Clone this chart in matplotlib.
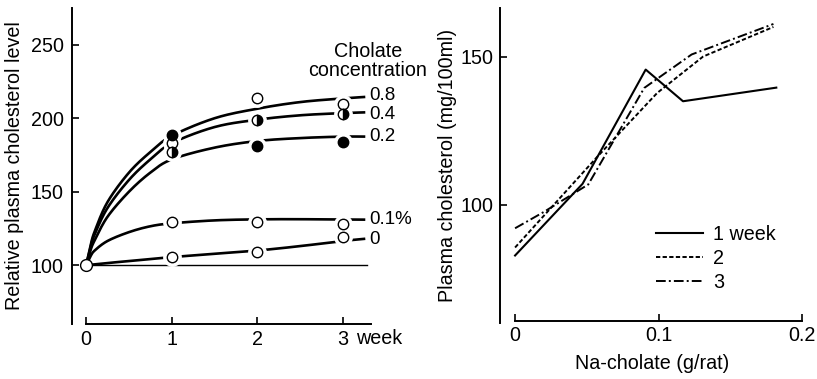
import matplotlib
matplotlib.use("Agg")
import matplotlib.pyplot as plt
import numpy as np

plt.rcParams['font.family'] = ['Liberation Sans', 'DejaVu Sans']
FS = 14.2

# ---------------- Left panel data ----------------
weeks = [0, 1, 2, 3]
conc_labels = ["0.8", "0.4", "0.2", "0.1%", "0"]
pts_08 = [100, 183, 214, 210]
pts_04 = [100, 177, 199, 203]
pts_02 = [100, 188.5, 181, 183.5]
pts_01 = [100, 129.5, 129.5, 128]
pts_00 = [100, 105.7, 109, 119.3]

curve_x = [0, 0.05, 0.1, 0.25, 0.5, 0.75, 1, 1.5, 2, 2.5, 3, 3.26]
curve_08 = [100, 113, 123, 143, 163, 177, 188, 200, 206.5, 211, 213.5, 214.5]
curve_04 = [100, 112, 121, 139, 158, 172, 183, 194, 199, 202, 203.5, 204]
curve_02 = [100, 110, 117, 133, 150, 163, 172, 180, 184.5, 186.5, 187.5, 187.5]
curve_01 = [100, 106, 110, 116.5, 122.5, 126.5, 128.5, 130.5, 131.2, 131.3, 131, 131]
curve_00 = [100, 100.3, 100.6, 101.5, 102.8, 104.2, 105.5, 107.8, 110, 113, 116.5, 118]

# label heights for the curve-end labels
label_y = [215.5, 202.5, 187.5, 131, 117.5]

# ---------------- Right panel data ----------------
x_w1 = [0, 0.047, 0.091, 0.117, 0.182]
y_w1 = [82.8, 107, 145.6, 134.9, 139.5]
x_w2 = [0, 0.057, 0.099, 0.131, 0.180]
y_w2 = [85.5, 116, 137.7, 150, 160]
x_w3 = [0, 0.02, 0.051, 0.09, 0.123, 0.180]
y_w3 = [92, 97.5, 106.8, 139.4, 150.7, 161]
legend_labels = ["1 week", "2", "3"]


def smooth_path(xs, ys, n=20):
    """Catmull-Rom rendering of a hand-drawn curve through the read points."""
    xs = np.asarray(xs, float)
    ys = np.asarray(ys, float)
    P = np.column_stack([xs, ys])
    P = np.vstack([2 * P[0] - P[1], P, 2 * P[-1] - P[-2]])
    out = []
    t = np.linspace(0, 1, n, endpoint=False)[:, None]
    for i in range(1, len(P) - 2):
        p0, p1, p2, p3 = P[i - 1], P[i], P[i + 1], P[i + 2]
        seg = 0.5 * ((2 * p1) + (-p0 + p2) * t + (2 * p0 - 5 * p1 + 4 * p2 - p3) * t ** 2
                     + (-p0 + 3 * p1 - 3 * p2 + p3) * t ** 3)
        out.append(seg)
    out.append(P[-2][None, :])
    out = np.vstack(out)
    return out[:, 0], out[:, 1]


W, H = 817, 379
fig = plt.figure(figsize=(W / 100, H / 100), dpi=100)

# ---------- Left axes ----------
axL = fig.add_axes([72 / W, (H - 324) / H, 301 / W, 316 / H])
axL.set_xlim(-0.165, 3.35)
axL.set_ylim(60, 275)

lw_c = 1.9
curves = [curve_08, curve_04, curve_02, curve_01, curve_00]
for cy in curves:
    sx, sy = smooth_path(curve_x, cy)
    axL.plot(sx, sy, color='black', lw=lw_c, solid_capstyle='butt', zorder=2)

# baseline at 100
axL.plot([0, 3.28], [100, 100], color='black', lw=1.0, zorder=1)

ms = 7.5
gap_ms = ms + 5
marker_sets = [
    (pts_08, dict(markerfacecolor='white', fillstyle='full')),
    (pts_04, dict(markerfacecolor='black', fillstyle='right', markerfacecoloralt='white')),
    (pts_02, dict(markerfacecolor='black', fillstyle='full')),
    (pts_01, dict(markerfacecolor='white', fillstyle='full')),
    (pts_00, dict(markerfacecolor='white', fillstyle='full')),
]
for py, style in marker_sets:
    axL.plot(weeks[1:], py[1:], ls='none', marker='o', ms=gap_ms, markerfacecolor='white',
             markeredgecolor='white', zorder=3)
for py, style in marker_sets:
    axL.plot(weeks[1:], py[1:], ls='none', marker='o', ms=ms, markeredgecolor='black',
             markeredgewidth=1.0, zorder=4, **style)
axL.plot([0], [100], ls='none', marker='o', ms=ms + 1, markerfacecolor='white',
         markeredgecolor='black', markeredgewidth=1.0, zorder=5)

for lab, ly in zip(conc_labels, label_y):
    axL.text(3.31, ly, lab, fontsize=13.5, va='center', ha='left')

axL.text(3.29, 252, "Cholate\nconcentration", fontsize=FS, ha='center', va='top',
         linespacing=1.0, clip_on=False)

for s in ['top', 'right']:
    axL.spines[s].set_visible(False)
axL.spines['left'].set_linewidth(1.4)
axL.spines['bottom'].set_linewidth(1.4)
axL.spines['bottom'].set_bounds(0, 3.33)
axL.set_xticks(weeks)
axL.set_xticklabels(['0', '1', '2', '3'])
axL.set_yticks([100, 150, 200, 250])
axL.tick_params(direction='in', length=5, width=1.2, labelsize=FS, pad=4)
axL.tick_params(axis='y', pad=6)
axL.text(3.15, -0.045, "week", transform=axL.get_xaxis_transform(), fontsize=FS,
         ha='left', va='center')
axL.set_ylabel("Relative plasma cholesterol level", fontsize=FS, labelpad=5)

# ---------- Right axes ----------
axR = fig.add_axes([500 / W, (H - 323) / H, 305 / W, 315 / H])
axR.set_xlim(-0.0105, 0.202)
axR.set_ylim(60, 166.4)

axR.plot(x_w1, y_w1, color='black', lw=1.5, label=legend_labels[0])
axR.plot(x_w2, y_w2, color='black', lw=1.4, dashes=(2.2, 1.2), label=legend_labels[1])
axR.plot(x_w3, y_w3, color='black', lw=1.4, dashes=(5, 1.6, 1, 1.6), label=legend_labels[2])

for s in ['top', 'right']:
    axR.spines[s].set_visible(False)
axR.spines['left'].set_linewidth(1.4)
axR.spines['bottom'].set_linewidth(1.4)
axR.spines['bottom'].set_bounds(0, 0.2)
axR.spines['bottom'].set_position(('data', 60.7))
axR.set_xticks([0, 0.1, 0.2])
axR.set_xticklabels(['0', '0.1', '0.2'])
axR.set_yticks([100, 150])
axR.tick_params(direction='in', length=5, width=1.2, labelsize=FS, pad=4)
axR.tick_params(axis='y', pad=5)
axR.set_xlabel("Na-cholate (g/rat)", fontsize=FS, labelpad=6)
axR.set_ylabel("Plasma cholesterol (mg/100ml)", fontsize=FS, labelpad=2)

axR.legend(loc='upper left', bbox_to_anchor=(0.51, 0.31), frameon=False, fontsize=FS,
           handlelength=2.4, handletextpad=0.5, borderpad=0, borderaxespad=0,
           labelspacing=0.25)

fig.savefig("out.png", dpi=100)
